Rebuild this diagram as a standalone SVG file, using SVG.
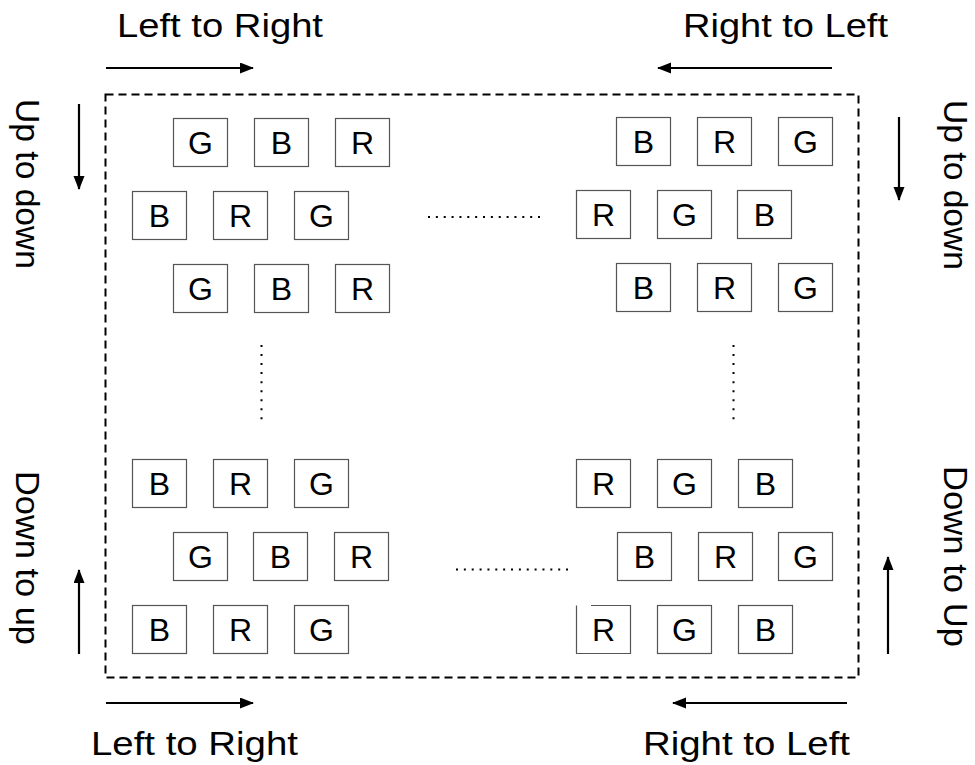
<svg xmlns="http://www.w3.org/2000/svg" width="975" height="765" viewBox="0 0 975 765">
  <style>
    .box { fill: #ffffff; stroke: #555555; stroke-width: 1.2; }
    .ltr { font-family: "Liberation Sans", Arial, sans-serif; font-size: 32px; fill: #000000; text-anchor: middle; }
    .lbl { font-family: "Liberation Sans", Arial, sans-serif; font-size: 34px; fill: #000000; }
    .arrow { stroke: #000000; stroke-width: 2.2; fill: none; marker-end: url(#ah); }
    .frame { fill: none; stroke: #000000; stroke-width: 2; stroke-dasharray: 8 5; }
    .dots { stroke: #000000; stroke-width: 2; fill: none; }
  </style>
  <defs>
    <marker id="ah" markerUnits="userSpaceOnUse" markerWidth="16" markerHeight="12" refX="13" refY="5.5" orient="auto">
      <path d="M0,0 L14,5.5 L0,11 z" fill="#000000"/>
    </marker>
  </defs>
  <rect width="975" height="765" fill="#ffffff"/>

  <g id="frame">
    <rect class="frame" x="105.5" y="94.5" width="753" height="583"/>
  </g>

  <g id="labels">
    <text class="lbl" x="117" y="37" textLength="206" lengthAdjust="spacingAndGlyphs">Left to Right</text>
    <text class="lbl" x="683" y="37" textLength="205" lengthAdjust="spacingAndGlyphs">Right to Left</text>
    <text class="lbl" x="91" y="755" textLength="207" lengthAdjust="spacingAndGlyphs">Left to Right</text>
    <text class="lbl" x="643" y="755" textLength="207" lengthAdjust="spacingAndGlyphs">Right to Left</text>
    <text class="lbl" transform="translate(16,99) rotate(90)" textLength="170" lengthAdjust="spacingAndGlyphs">Up to down</text>
    <text class="lbl" transform="translate(944,100) rotate(90)" textLength="170" lengthAdjust="spacingAndGlyphs">Up to down</text>
    <text class="lbl" transform="translate(16,471) rotate(90)" textLength="174" lengthAdjust="spacingAndGlyphs">Down to up</text>
    <text class="lbl" transform="translate(944,466) rotate(90)" textLength="181" lengthAdjust="spacingAndGlyphs">Down to Up</text>
  </g>

  <g id="connectors">
    <line class="arrow" x1="106" y1="68" x2="253" y2="68"/>
    <line class="arrow" x1="832" y1="68" x2="658" y2="68"/>
    <line class="arrow" x1="79" y1="104" x2="79" y2="189"/>
    <line class="arrow" x1="899" y1="117" x2="899" y2="200"/>
    <line class="arrow" x1="79" y1="654" x2="79" y2="570"/>
    <line class="arrow" x1="888" y1="654" x2="888" y2="557"/>
    <line class="arrow" x1="106" y1="703" x2="253" y2="703"/>
    <line class="arrow" x1="847" y1="703" x2="673" y2="703"/>
  </g>

  <g id="ellipses">
    <line class="dots" x1="428" y1="217" x2="540" y2="217" stroke-dasharray="2 5.86"/>
    <line class="dots" x1="456" y1="569.5" x2="568" y2="569.5" stroke-dasharray="2 5.86"/>
    <line class="dots" x1="261.5" y1="345" x2="261.5" y2="420" stroke-dasharray="2 7.04"/>
    <line class="dots" x1="733.5" y1="345" x2="733.5" y2="421" stroke-dasharray="2 7.04"/>
  </g>

  <!-- top-left block -->
  <g id="tl-r1-g"><rect class="box" x="173.5" y="118.5" width="54" height="48"/><text class="ltr" x="200.5" y="154">G</text></g>
  <g id="tl-r1-b"><rect class="box" x="254.5" y="118.5" width="54" height="48"/><text class="ltr" x="281.5" y="154">B</text></g>
  <g id="tl-r1-r"><rect class="box" x="335.5" y="118.5" width="54" height="48"/><text class="ltr" x="362.5" y="154">R</text></g>
  <g id="tl-r2-b"><rect class="box" x="132.5" y="191.5" width="54" height="48"/><text class="ltr" x="159.5" y="227">B</text></g>
  <g id="tl-r2-r"><rect class="box" x="213.5" y="191.5" width="54" height="48"/><text class="ltr" x="240.5" y="227">R</text></g>
  <g id="tl-r2-g"><rect class="box" x="294.5" y="191.5" width="54" height="48"/><text class="ltr" x="321.5" y="227">G</text></g>
  <g id="tl-r3-g"><rect class="box" x="173.5" y="264.5" width="54" height="48"/><text class="ltr" x="200.5" y="300">G</text></g>
  <g id="tl-r3-b"><rect class="box" x="254.5" y="264.5" width="54" height="48"/><text class="ltr" x="281.5" y="300">B</text></g>
  <g id="tl-r3-r"><rect class="box" x="335.5" y="264.5" width="54" height="48"/><text class="ltr" x="362.5" y="300">R</text></g>

  <!-- top-right block -->
  <g id="tr-r1-b"><rect class="box" x="616.5" y="117.5" width="54" height="48"/><text class="ltr" x="643.5" y="153">B</text></g>
  <g id="tr-r1-r"><rect class="box" x="697.5" y="117.5" width="54" height="48"/><text class="ltr" x="724.5" y="153">R</text></g>
  <g id="tr-r1-g"><rect class="box" x="778.5" y="117.5" width="54" height="48"/><text class="ltr" x="805.5" y="153">G</text></g>
  <g id="tr-r2-r"><rect class="box" x="576.5" y="190.5" width="54" height="48"/><text class="ltr" x="603.5" y="226">R</text></g>
  <g id="tr-r2-g"><rect class="box" x="657.5" y="190.5" width="54" height="48"/><text class="ltr" x="684.5" y="226">G</text></g>
  <g id="tr-r2-b"><rect class="box" x="737.5" y="190.5" width="54" height="48"/><text class="ltr" x="764.5" y="226">B</text></g>
  <g id="tr-r3-b"><rect class="box" x="616.5" y="263.5" width="54" height="48"/><text class="ltr" x="643.5" y="299">B</text></g>
  <g id="tr-r3-r"><rect class="box" x="697.5" y="263.5" width="54" height="48"/><text class="ltr" x="724.5" y="299">R</text></g>
  <g id="tr-r3-g"><rect class="box" x="778.5" y="263.5" width="54" height="48"/><text class="ltr" x="805.5" y="299">G</text></g>

  <!-- bottom-left block -->
  <g id="bl-r1-b"><rect class="box" x="132.5" y="459.5" width="54" height="48"/><text class="ltr" x="159.5" y="495">B</text></g>
  <g id="bl-r1-r"><rect class="box" x="213.5" y="459.5" width="54" height="48"/><text class="ltr" x="240.5" y="495">R</text></g>
  <g id="bl-r1-g"><rect class="box" x="294.5" y="459.5" width="54" height="48"/><text class="ltr" x="321.5" y="495">G</text></g>
  <g id="bl-r2-g"><rect class="box" x="173.5" y="532.5" width="54" height="48"/><text class="ltr" x="200.5" y="568">G</text></g>
  <g id="bl-r2-b"><rect class="box" x="253.5" y="532.5" width="54" height="48"/><text class="ltr" x="280.5" y="568">B</text></g>
  <g id="bl-r2-r"><rect class="box" x="334.5" y="532.5" width="54" height="48"/><text class="ltr" x="361.5" y="568">R</text></g>
  <g id="bl-r3-b"><rect class="box" x="132.5" y="605.5" width="54" height="48"/><text class="ltr" x="159.5" y="641">B</text></g>
  <g id="bl-r3-r"><rect class="box" x="213.5" y="605.5" width="54" height="48"/><text class="ltr" x="240.5" y="641">R</text></g>
  <g id="bl-r3-g"><rect class="box" x="294.5" y="605.5" width="54" height="48"/><text class="ltr" x="321.5" y="641">G</text></g>

  <!-- bottom-right block -->
  <g id="br-r1-r"><rect class="box" x="576.5" y="459.5" width="54" height="48"/><text class="ltr" x="603.5" y="495">R</text></g>
  <g id="br-r1-g"><rect class="box" x="657.5" y="459.5" width="54" height="48"/><text class="ltr" x="684.5" y="495">G</text></g>
  <g id="br-r1-b"><rect class="box" x="738.5" y="459.5" width="54" height="48"/><text class="ltr" x="765.5" y="495">B</text></g>
  <g id="br-r2-b"><rect class="box" x="617.5" y="532.5" width="54" height="48"/><text class="ltr" x="644.5" y="568">B</text></g>
  <g id="br-r2-r"><rect class="box" x="698.5" y="532.5" width="54" height="48"/><text class="ltr" x="725.5" y="568">R</text></g>
  <g id="br-r2-g"><rect class="box" x="778.5" y="532.5" width="54" height="48"/><text class="ltr" x="805.5" y="568">G</text></g>
  <g id="br-r3-r"><path class="box" d="M591,605.5 H630.5 V653.5 H576.5 V605.5"/><text class="ltr" x="603.5" y="641">R</text></g>
  <g id="br-r3-g"><rect class="box" x="657.5" y="605.5" width="54" height="48"/><text class="ltr" x="684.5" y="641">G</text></g>
  <g id="br-r3-b"><rect class="box" x="738.5" y="605.5" width="54" height="48"/><text class="ltr" x="765.5" y="641">B</text></g>
</svg>
